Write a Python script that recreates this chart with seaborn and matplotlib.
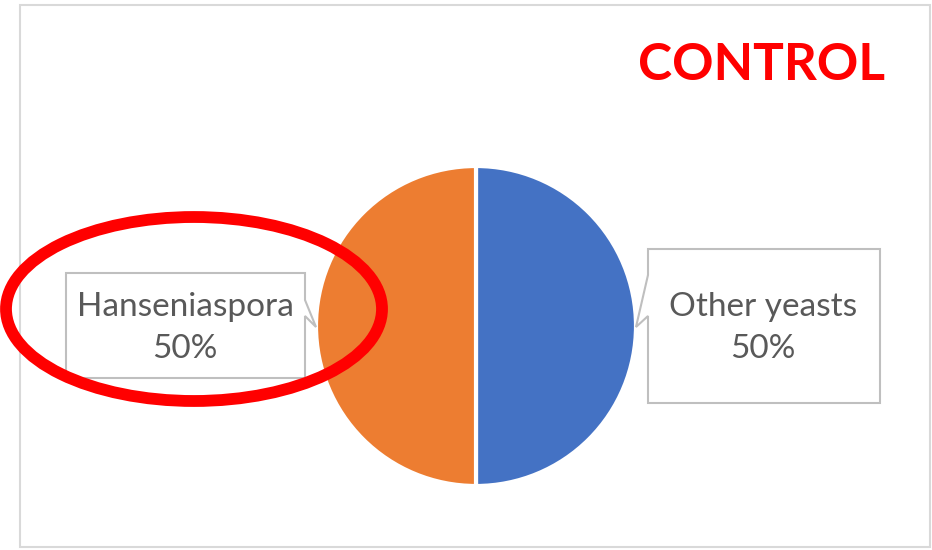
import matplotlib
matplotlib.use("Agg")
import matplotlib.pyplot as plt
import seaborn as sns
from matplotlib.patches import Ellipse, Polygon, Rectangle

# data
labels = ["Other yeasts", "Hanseniaspora"]
shares = [50, 50]
colors = ["#4472C4", "#ED7D31"]
title = "CONTROL"

W, H = 932, 550


def fy(py):
    # pixel row (from top) -> data y
    return H - py


sns.set_theme(style="white")
plt.rcParams["font.family"] = ["Lato", "DejaVu Sans"]

fig = plt.figure(figsize=(W / 100, H / 100), dpi=100)
ax = fig.add_axes([0, 0, 1, 1])

# chart frame
ax.add_patch(Rectangle((20, fy(547)), 910, 542, fill=False, edgecolor="#D9D9D9", lw=1.5))

# pie
ax.pie(shares, colors=colors, center=(476, fy(326)), radius=160, startangle=90,
       counterclock=False, wedgeprops=dict(edgecolor="white", linewidth=3),
       frame=True)
ax.set_xlim(0, W)
ax.set_ylim(0, H)
ax.set_aspect("equal")
ax.axis("off")

# callout boxes
boxes = [
    [(648, 249), (880, 249), (880, 403), (648, 403), (648, 316), (636, 327), (648, 275)],
    [(66, 273), (305, 273), (305, 300), (316, 327), (305, 316), (305, 378), (66, 378)],
]
text_pos = [(763, 328), (185, 328)]
for pts, (tx, ty), lab, val in zip(boxes, text_pos, labels, shares):
    ax.add_patch(Polygon([(x, fy(y)) for x, y in pts], closed=True, facecolor="white",
                         edgecolor="#BFBFBF", lw=1.5, zorder=3))
    ax.text(tx, fy(ty), f"{lab}\n{val}%", ha="center", va="center", fontsize=24,
            color="#595959", linespacing=1.48, zorder=4)

# red highlight ellipse
ax.add_patch(Ellipse((194, fy(309)), 376, 184, fill=False, edgecolor="#FF0000", lw=8.5, zorder=5))

ax.text(761, fy(65), title, ha="center", va="center", fontsize=37, fontweight="bold",
        color="#FF0000")

fig.savefig("out.png", dpi=100)
